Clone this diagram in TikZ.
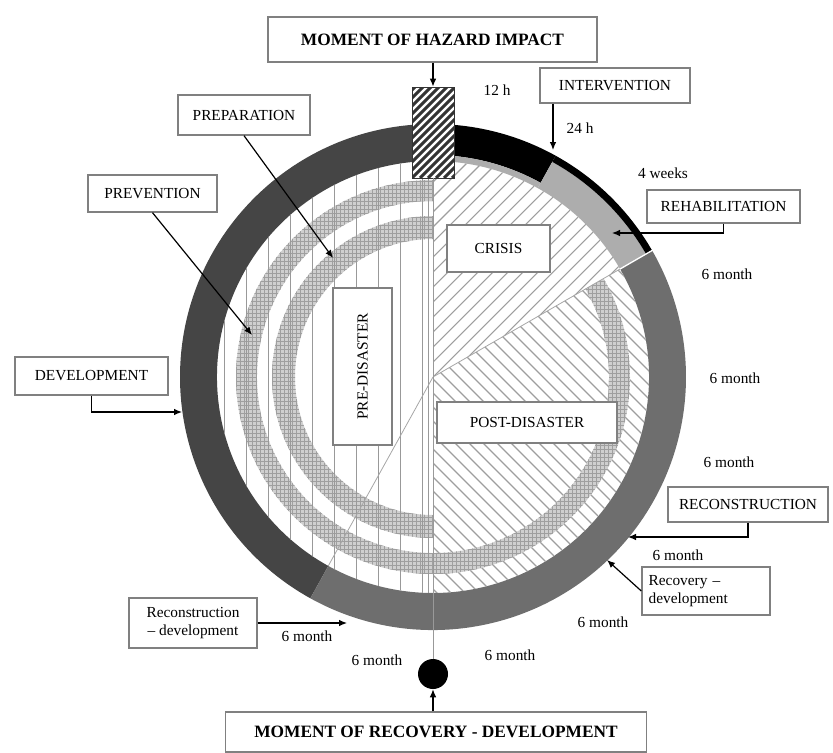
\documentclass[tikz,border=0pt]{standalone}
\usepackage{fontspec}
\setmainfont{Liberation Serif}
\usetikzlibrary{arrows.meta,patterns}
\definecolor{devgray}{gray}{0.27}
\definecolor{recgray}{gray}{0.43}
\definecolor{rehgray}{gray}{0.68}
\definecolor{boxgray}{gray}{0.5}
\definecolor{hatchgray}{gray}{0.62}
\newcommand{\ringpart}[4]{(#1:#4) arc[start angle=#1,end angle=#2,radius=#4] -- (#2:#3) arc[start angle=#2,end angle=#1,radius=#3] -- cycle}
\tikzset{
  lbl/.style={draw=boxgray,line width=1pt,fill=white,inner sep=2pt,font=\fontsize{11.5}{13}\selectfont},
  moment/.style={lbl,font=\fontsize{13}{15}\selectfont\bfseries},
  span/.style={font=\fontsize{11.5}{13}\selectfont,inner sep=1pt},
  pointer/.style={draw=black,line width=0.9pt,-{Latex[length=6pt,width=5pt]}},
  hatch/.style={hatchgray,line width=0.8pt},
  mesh/.style={fill=gray!38,postaction={pattern=grid,pattern color=gray!75}},
}
\begin{document}
\begin{tikzpicture}[x=0.75pt,y=-0.75pt]
\useasboundingbox (0,0) rectangle (833,753);
\clip (0,0) rectangle (833,753);
\coordinate (ctr) at (433,377);
\begin{scope}[shift={(ctr)}]
  % outer time ring
  \fill[devgray] \ringpart{-90}{-241}{216}{253};
  \fill[recgray] \ringpart{-241}{-390}{216}{253};
  \fill[black] \ringpart{-61}{-90}{222}{253};
  \fill[rehgray] \ringpart{-61}{-90}{216}{222};
  \fill[rehgray] \ringpart{-30}{-61}{216}{246};
  \fill[black] \ringpart{-30}{-61}{246}{253};
  \draw[white,line width=1pt] (-30:214) -- (-30:255);
  % crisis sector
  \begin{scope}
    \clip (0,0) -- (-30:216) arc[start angle=-30,end angle=-90,radius=216] -- cycle;
    \foreach \c in {-450,-435,...,450} \draw[hatch] ({\c+250},-250) -- ({\c-250},250);
  \end{scope}
  % post-disaster sector
  \begin{scope}
    \clip (0,0) -- (90:216) arc[start angle=90,end angle=-30,radius=216] -- cycle;
    \foreach \c in {-450,-436,...,450} \draw[hatch] ({\c-250},-250) -- ({\c+250},250);
  \end{scope}
  % prevention / preparation bands
  \path[mesh] \ringpart{-90}{-390}{176}{197};
  \path[mesh] \ringpart{-90}{-270}{138}{161};
  % pre-disaster half
  \begin{scope}
    \clip (0,-216) arc[start angle=-90,end angle=-270,radius=216] -- cycle;
    \foreach \x in {-5,-11,-33,...,-209} \draw[gray!80,line width=0.6pt] (\x,-216) -- (\x,216);
  \end{scope}
  \draw[gray!70,line width=0.6pt] (0,0) -- (-30:216);
  \draw[gray!70,line width=0.6pt] (0,0) -- (-241:216);
\end{scope}

\node[moment,minimum width=246.75pt,minimum height=33.75pt] (hazard) at (432.5,39.5) {MOMENT OF HAZARD IMPACT};
\node[draw=black!80,line width=.6pt,minimum width=31.5pt,minimum height=68.25pt,fill=white,
  path picture={\foreach \k in {0,...,18} \draw[line width=2.2pt] ([xshift=\k*6pt-72pt]path picture bounding box.south west) -- ++(80pt,80pt);}] (impact) at (433,132.5) {};
\node[circle,fill=black,minimum size=22.5pt,inner sep=0pt] (dot) at (433,674) {};
\draw[gray!80,line width=0.6pt] (impact.south) -- (dot.north);
\node[moment,minimum width=316pt,minimum height=30pt] (recmom) at (436,732) {MOMENT OF RECOVERY - DEVELOPMENT};

\node[lbl,minimum width=112.5pt,minimum height=26.25pt] (interv) at (615,85.5) {INTERVENTION};
\node[lbl,minimum width=114.75pt,minimum height=24.75pt] (rehab) at (723.5,206.5) {REHABILITATION};
\node[lbl,minimum width=99pt,minimum height=30pt] (prep) at (244,115) {PREPARATION};
\node[lbl,minimum width=96.75pt,minimum height=27.75pt] (prev) at (152.5,193.5) {PREVENTION};
\node[lbl,minimum width=114.75pt,minimum height=28.5pt] (dev) at (91.5,376) {DEVELOPMENT};
\node[lbl,minimum width=77.25pt,minimum height=35.25pt] (crisis) at (498.5,248.5) {CRISIS};
\node[lbl,minimum width=117.75pt,minimum height=44.25pt,rotate=90] (pre) at (362.5,366.5) {PRE-DISASTER};
\node[lbl,minimum width=135pt,minimum height=30.75pt] (post) at (527,422.5) {POST-DISASTER};
\node[lbl,minimum width=120pt,minimum height=26.25pt] (recon) at (748,504.5) {RECONSTRUCTION};
\node[lbl,minimum width=96pt,minimum height=36pt,align=left,text width=86pt] (recdev) at (706,591) {Recovery --\\development};
\node[lbl,minimum width=96pt,minimum height=37.5pt,align=center] (condev) at (193,623) {Reconstruction\\-- development};

\coordinate (tipInt) at (553,150);
\coordinate (tipReh) at (612,233);
\coordinate (tipRec) at (628,537);
\coordinate (tipRcd) at (607,560);
\coordinate (tipCon) at (347,623);
\coordinate (tipDev) at (182,412);
\coordinate (tipPrev) at (252,335);
\coordinate (tipPrep) at (333,258);

\draw[pointer] (hazard.south -| impact.north) -- (impact.north);
\draw[pointer] (interv.south -| tipInt) -- (tipInt);
\draw[pointer] (rehab.south) |- (tipReh);
\draw[pointer] (recon.south) |- (tipRec);
\draw[pointer] (recdev.west) -- (tipRcd);
\draw[pointer] (condev.east) -- (tipCon);
\draw[pointer] (dev.south) |- (tipDev);
\draw[pointer] (prev.south) -- (tipPrev);
\draw[pointer] (prep.south) -- (tipPrep);
\draw[pointer] (recmom.north -| dot.south) -- (dot.south);

\node[span] (h12) at (497,90) {12 h};
\node[span] (h24) at (580,128) {24 h};
\node[span] (w4) at (663,173) {4 weeks};
\foreach \p [count=\i] in {(727,274),(735,378),(729,462),(678,555),(603,622),(510,655),(377,660),(307,636)}
  \node[span] (m\i) at \p {6 month};
\end{tikzpicture}
\end{document}
